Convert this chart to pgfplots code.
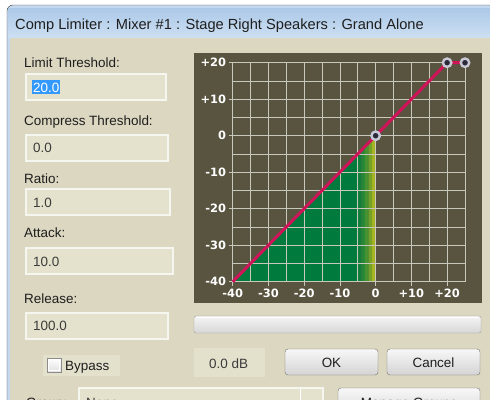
\documentclass[border=0pt]{standalone}
\usepackage{pgfplots}
\pgfplotsset{compat=1.18}
\usepackage{fontspec}
\setmainfont{Liberation Sans}
\newfontfamily\tickfont{DejaVu Sans}

\definecolor{beige}{RGB}{220,215,192}
\definecolor{boxfill}{RGB}{228,226,204}
\definecolor{boxline}{RGB}{246,246,240}
\definecolor{patch}{RGB}{227,224,204}
\definecolor{panel}{RGB}{89,84,63}
\definecolor{gridc}{RGB}{200,200,188}
\definecolor{greenc}{RGB}{0,122,61}
\definecolor{yellowc}{RGB}{190,188,30}
\definecolor{redc}{RGB}{208,20,90}
\definecolor{ringc}{RGB}{200,200,214}
\definecolor{dotc}{RGB}{42,42,56}
\definecolor{titletop}{RGB}{172,200,232}
\definecolor{titlebot}{RGB}{204,223,242}
\definecolor{framec}{RGB}{196,216,238}
\definecolor{txt}{RGB}{30,30,30}
\definecolor{boxtxt}{RGB}{60,60,60}
\definecolor{selblue}{RGB}{51,153,255}
\definecolor{btnline}{RGB}{112,112,112}

\newcommand{\ui}{\fontsize{13.5}{15}\selectfont}

\pgfplotsset{transfer/.style={
  at={(232.7bp,-281.7bp)}, anchor=south west,
  scale only axis, width=232.3bp, height=219bp,
  xmin=-40, xmax=25, ymin=-40, ymax=20, clip=false}}

\begin{document}
\begin{tikzpicture}
\begin{scope}[x=1bp,y=-1bp]
% window frame and title bar
\fill[white] (0,0) rectangle (490,400);
\draw[black!75, fill=framec, rounded corners=6] (7,5) rectangle (520,440);
\shade[top color=titletop, bottom color=titlebot] (8,8) rectangle (490,37);
\node[anchor=base west, inner sep=0, text=txt, font=\fontsize{14.7}{16}\selectfont] at (15,29.3)
  {Comp Limiter : Mixer \#1 : Stage Right Speakers : Grand Alone};
\fill[beige] (10,38) rectangle (490,420);

% parameter labels and fields
\foreach \lab/\ly/\by/\bw in {Limit Threshold:/67/74/140, Compress Threshold:/125/135/142,
    Ratio:/183/189/144, Attack:/237.5/248/147, Release:/303/313/142} {
  \node[anchor=base west, inner sep=0, text=txt, font=\ui] at (24,\ly) {\lab};
  \draw[boxline, line width=1.5bp, fill=boxfill] (26,\by) rectangle ++(\bw,26);
}
\fill[selblue] (32,80) rectangle (60,94);
\node[anchor=base west, inner sep=0, text=white, font=\ui] at (33,92) {20.0};
\node[anchor=base west, inner sep=0, text=boxtxt, font=\ui] at (33,152.5) {0.0};
\node[anchor=base west, inner sep=0, text=boxtxt, font=\ui] at (33,207) {1.0};
\node[anchor=base west, inner sep=0, text=boxtxt, font=\ui] at (33,266) {10.0};
\node[anchor=base west, inner sep=0, text=boxtxt, font=\ui] at (33,330) {100.0};

% bypass
\fill[patch] (43,355) rectangle (120,376);
\draw[black!45, top color=white, bottom color=black!12] (47,358) rectangle (61,372);
\draw[white] (48.5,359.5) rectangle (59.5,370.5);
\node[anchor=base west, inner sep=0, text=txt, font=\ui] at (65,370) {Bypass};

% chart panel
\fill[panel] (194,53) rectangle (482,303);

% slider
\draw[black!38, rounded corners=2, top color=black!4, bottom color=black!16] (194,316) rectangle (481,333);
\draw[white, line width=0.8bp] (197,317.5) -- (478,317.5);

% level readout and buttons
\fill[patch] (194,348) rectangle (265,377);
\node[anchor=base west, inner sep=0, text=boxtxt, font=\ui] at (209,368) {0.0 dB};
\foreach \bx/\bt in {285/OK, 387/Cancel} {
  \draw[btnline, rounded corners=3, top color=black!3, bottom color=black!17] (\bx,349) rectangle ++(93,26);
  \node[inner sep=0, text=txt, font=\ui] at (\bx+46.5,362.5) {\bt};
}

% group row (cut off at the bottom)
\node[anchor=base west, inner sep=0, text=txt, font=\ui] at (26,407) {Group:};
\draw[boxline, line width=1.5bp, fill=boxfill] (79,388) rectangle (323,420);
\draw[white, line width=1bp] (300,389) -- (300,420);
\node[anchor=base west, inner sep=0, text=boxtxt, font=\ui] at (86,407) {None};
\draw[btnline, rounded corners=3, top color=black!3, bottom color=black!17] (338,388) rectangle (480,420);
\node[anchor=base, inner sep=0, text=txt, font=\ui] at (409,407) {Manage Groups};
\end{scope}

% green area under the curve (below the grid); the last strips fade to yellow at 0 dB
\begin{axis}[transfer, hide axis]
\addplot[draw=none, fill=greenc] coordinates {(-40,-40) (-5,-5) (-5,-40)};
\addplot[draw=none, fill=greenc!92!yellowc] coordinates {(-5,-40) (-5,-5) (-4,-4) (-4,-40)};
\addplot[draw=none, fill=greenc!80!yellowc] coordinates {(-4,-40) (-4,-4) (-3,-3) (-3,-40)};
\addplot[draw=none, fill=greenc!62!yellowc] coordinates {(-3,-40) (-3,-3) (-2,-2) (-2,-40)};
\addplot[draw=none, fill=greenc!40!yellowc] coordinates {(-2,-40) (-2,-2) (-1,-1) (-1,-40)};
\addplot[draw=none, fill=greenc!12!yellowc] coordinates {(-1,-40) (-1,-1) (0,0) (0,-40)};
\end{axis}

% grid, ticks and transfer curve
\begin{axis}[transfer,
  xtick={-40,-30,...,20}, ytick={-40,-30,...,20},
  xticklabels={-40,-30,-20,-10,0,+10,+20},
  yticklabels={-40,-30,-20,-10,0,+10,+20},
  minor xtick={-35,-25,...,25}, minor ytick={-35,-25,...,15},
  grid=both, grid style={gridc, line width=0.8bp},
  axis line style={gridc, line width=0.8bp},
  xtick pos=bottom, ytick pos=left,
  tick align=outside, major tick length=4bp, minor tick length=0pt,
  major tick style={gridc, line width=0.8bp},
  tick label style={font=\tickfont\bfseries\fontsize{11.5}{12}\selectfont, text=white},
  yticklabel style={xshift=1bp},
  xticklabel style={yshift=0bp},
]
\addplot[redc, line width=3bp, mark=none] coordinates {(-40,-40) (0,0) (20,20) (25,20)};
\addplot[only marks, mark=*, mark size=4.2bp, mark options={fill=dotc, draw=ringc, line width=2.4bp}]
  coordinates {(0,0) (20,20) (25,20)};
\end{axis}
\pgfresetboundingbox
\path[use as bounding box] (0,0) rectangle (490bp,-400bp);
\end{tikzpicture}
\end{document}
